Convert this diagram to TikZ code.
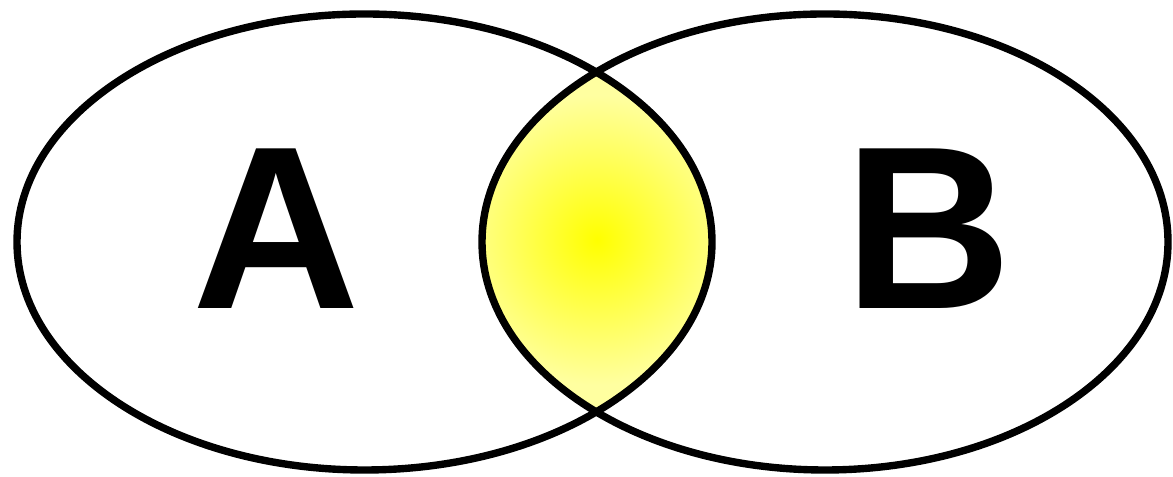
\documentclass[tikz,border=0pt]{standalone}
\usepackage{fontspec}
\setmainfont{Liberation Sans}
\usetikzlibrary{positioning}
\definecolor{lensC}{HTML}{FFFF00}
\definecolor{lensEdgeC}{HTML}{FFFFA0}

\begin{document}
\begin{tikzpicture}[x=0.01cm,y=-0.01cm,
    setline/.style={black,line width=2.1pt},
    setlabel/.style={inner sep=0pt,font=\fontsize{66}{66}\selectfont\bfseries}]
  \useasboundingbox (0,0) rectangle (1173,477);

  % intersection, radial yellow
  \begin{scope}
    \clip (364.5,242) ellipse [x radius=347.5, y radius=228];
    \clip (825,242) ellipse [x radius=343, y radius=228];
    \fill[lensEdgeC] (597,240) circle (250);
    \shade[shading=radial,inner color=lensC,outer color=lensEdgeC]
          (597,240) circle (145);
  \end{scope}

  % the two sets
  \draw[setline] (364.5,242) ellipse [x radius=347.5, y radius=228];
  \draw[setline] (825,242) ellipse [x radius=343, y radius=228];

  % labels
  \node[setlabel] (setA) at (276.5,228.5) {A};
  \node[setlabel] (setB) at (928,228.5) {B};
\end{tikzpicture}
\end{document}
